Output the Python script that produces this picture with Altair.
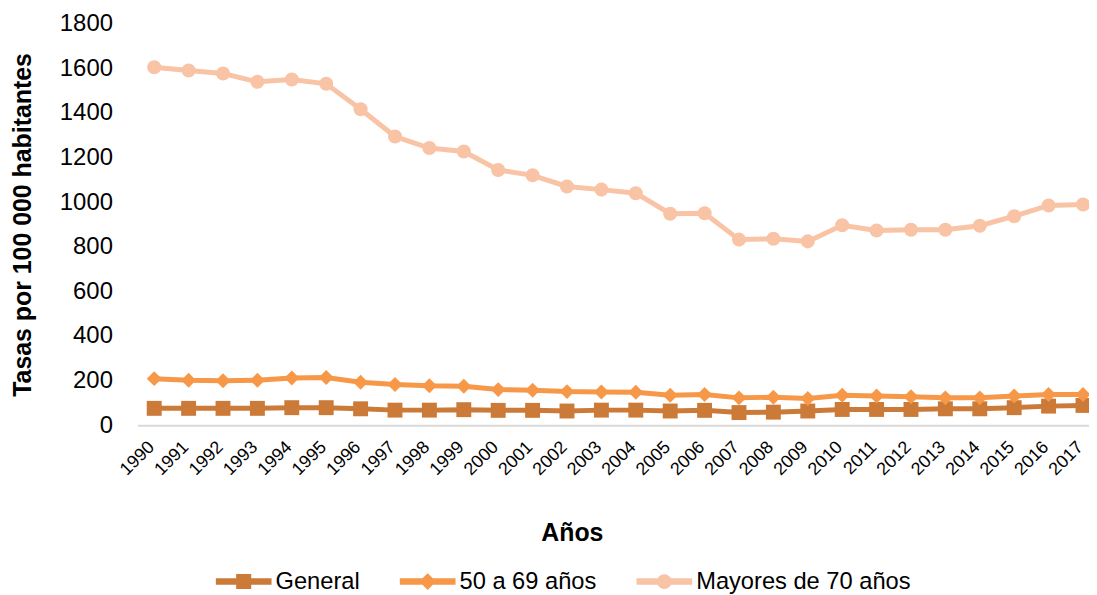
import altair as alt
import pandas as pd

years = [1990, 1991, 1992, 1993, 1994, 1995, 1996, 1997, 1998, 1999,
         2000, 2001, 2002, 2003, 2004, 2005, 2006, 2007, 2008, 2009,
         2010, 2011, 2012, 2013, 2014, 2015, 2016, 2017]

general = [76, 76, 76, 76, 79, 79, 74, 68, 68, 70, 67, 67, 64, 68, 68, 64,
           67, 57, 59, 64, 71, 71, 71, 74, 74, 79, 86, 89]
edad_50_69 = [209, 202, 200, 202, 212, 214, 193, 183, 177, 175, 160, 157, 151,
              149, 148, 135, 138, 123, 126, 120, 135, 131, 128, 123, 123, 131,
              138, 138]
mayores_70 = [1604, 1590, 1576, 1539, 1549, 1530, 1416, 1294, 1242, 1227, 1144,
              1120, 1070, 1056, 1040, 948, 950, 832, 836, 824, 896, 873, 876,
              876, 894, 937, 985, 989]

series = ["General", "50 a 69 años", "Mayores de 70 años"]
colors = ["#CB7A38", "#F79848", "#F9C3A5"]
y_ticks = [0, 200, 400, 600, 800, 1000, 1200, 1400, 1600, 1800]

rows = []
for name, vals in zip(series, [general, edad_50_69, mayores_70]):
    for yr, v in zip(years, vals):
        rows.append({"Año": yr, "Valor": v, "Serie": name})
df = pd.DataFrame(rows)
legend_df = pd.DataFrame({"Serie": series})

FONT = "Liberation Sans"

# legend symbols: line with marker, in unit coordinates
leg_square = "M-1,-0.115H-0.27V-0.27H0.27V-0.115H1V0.115H0.27V0.27H-0.27V0.115H-1Z"
leg_diamond = "M-1,-0.115H-0.185L0,-0.3L0.185,-0.115H1V0.115H0.185L0,0.3L-0.185,0.115H-1Z"
leg_circle = ("M-1,-0.115H-0.242A0.27,0.27 0 0,1 0.242,-0.115H1V0.115H0.242"
              "A0.27,0.27 0 0,1 -0.242,0.115H-1Z")

color_scale = alt.Scale(domain=series, range=colors)

x_enc = alt.X(
    "Año:Q",
    scale=alt.Scale(domain=[1989.508, 2017.175], nice=False, zero=False),
    axis=alt.Axis(
        values=years, format="d", labelAngle=-45, ticks=False, grid=False,
        domainColor="#D9D9D9", domainWidth=2, labelFontSize=18,
        labelColor="#000000", labelFont=FONT, labelPadding=19,
        labelOffset=-3,
        labelOverlap=False, labelFlush=False, labelAlign="right",
        labelBaseline="middle",
        title="Años", titleFont=FONT, titleFontSize=25, titleFontWeight="bold",
        titleColor="#000000", titleX=437, titleY=108, titleBaseline="middle",
        titleAlign="center",
    ),
)
y_enc = alt.Y(
    "Valor:Q",
    scale=alt.Scale(domain=[0, 1800], nice=False),
    axis=alt.Axis(
        values=y_ticks, format="d", ticks=False, domain=False, grid=False,
        labelFontSize=24, labelFont=FONT, labelColor="#000000",
        labelPadding=25, labelFlush=False,
        title="Tasas por 100 000 habitantes", titleFont=FONT,
        titleFontSize=25, titleFontWeight="bold", titleColor="#000000",
        titleX=-115, titleY=202, titleBaseline="middle", titleAlign="center",
        titleAngle=-90,
    ),
)

legend_def = alt.Legend(
    orient="none", legendX=79, legendY=533, direction="horizontal",
    columns=3, title=None, labelFont=FONT, labelFontSize=23.8,
    labelColor="#000000", labelLimit=0, symbolSize=3136, symbolStrokeWidth=0,
    labelOffset=4, columnPadding=40, symbolOpacity=1,
)

# legend-only layer (first, so its legend settings win the merge)
legend_layer = (
    alt.Chart(legend_df)
    .mark_point(filled=True, opacity=1)
    .encode(
        x=alt.value(-3000), y=alt.value(-3000),
        color=alt.Color("Serie:N", scale=color_scale, legend=legend_def),
        shape=alt.Shape("Serie:N",
                        scale=alt.Scale(domain=series,
                                        range=[leg_square, leg_diamond, leg_circle]),
                        legend=legend_def),
    )
)

base = alt.Chart(df)

lines = base.mark_line(strokeWidth=5).encode(
    x=x_enc, y=y_enc,
    color=alt.Color("Serie:N", scale=color_scale, legend=None),
)

shapes = {"General": ("square", 225), "50 a 69 años": ("diamond", 225),
          "Mayores de 70 años": ("circle", 200)}
point_layers = []
for name in series:
    shp, sz = shapes[name]
    point_layers.append(
        base.transform_filter(alt.datum.Serie == name)
        .mark_point(shape=shp, size=sz, filled=True, opacity=1)
        .encode(x=x_enc, y=y_enc,
                color=alt.Color("Serie:N", scale=color_scale, legend=None))
    )

chart = alt.layer(legend_layer, lines, *point_layers).properties(
    width=957, height=404,
    autosize=alt.AutoSizeParams(type="none"),
    padding={"left": 130, "top": 14, "right": 0, "bottom": 168},
    background="white",
).configure_view(stroke=None)

chart.save("out.html", embed_options={"renderer": "svg", "actions": False})
